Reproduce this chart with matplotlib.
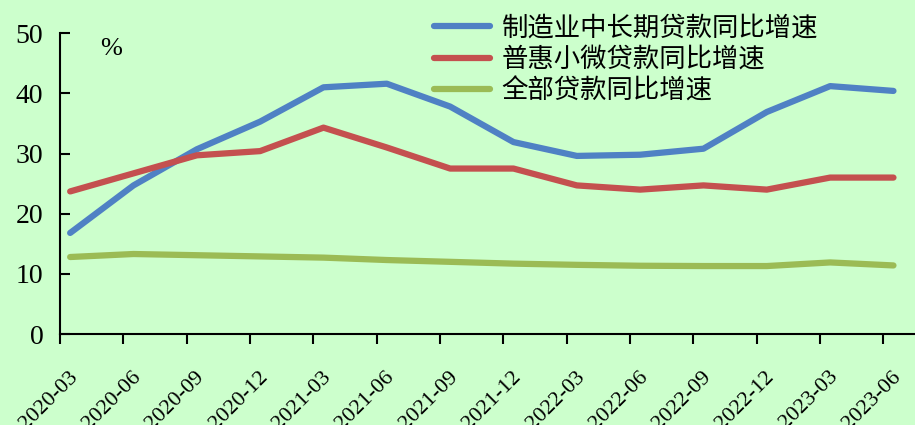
import matplotlib.pyplot as plt
import matplotlib.transforms as mtransforms

dates = ['2020-03', '2020-06', '2020-09', '2020-12', '2021-03', '2021-06', '2021-09',
         '2021-12', '2022-03', '2022-06', '2022-09', '2022-12', '2023-03', '2023-06']
manu_long = [16.8, 24.7, 30.7, 35.3, 41.0, 41.6, 37.8, 31.9, 29.6, 29.8, 30.8, 36.9, 41.2, 40.4]
inclusive_small = [23.7, 26.7, 29.7, 30.4, 34.3, 31.0, 27.5, 27.5, 24.7, 24.0, 24.7, 24.0, 26.0, 26.0]
all_loans = [12.8, 13.3, 13.1, 12.9, 12.7, 12.3, 12.0, 11.7, 11.5, 11.35, 11.3, 11.3, 11.9, 11.4]

labels = ['制造业中长期贷款同比增速', '普惠小微贷款同比增速', '全部贷款同比增速']
colors = ['#4f81c4', '#c4504f', '#9bbb55']

bg = '#ccffcc'
cjk = ['Noto Sans CJK SC', 'DejaVu Sans']
serif = 'Liberation Serif'

fig = plt.figure(figsize=(9.15, 4.25), dpi=100, facecolor=bg)
ax = fig.add_axes([0.0656, 0.214, 0.9344, 0.708])
ax.set_facecolor(bg)

x = list(range(len(dates)))
for ys, lab, c in zip([manu_long, inclusive_small, all_loans], labels, colors):
    ax.plot(x, ys, color=c, lw=4.5, label=lab, solid_capstyle='round', solid_joinstyle='round')

off = 0.16
tick_pos = [i - off for i in x]
ax.set_xticks(tick_pos)
ax.set_xticklabels([])
# rotated date labels, placed below and slightly right of each tick
lab_tr = ax.get_xaxis_transform() + mtransforms.ScaledTranslation(15 / 100, -40 / 100, fig.dpi_scale_trans)
for p, d in zip(tick_pos, dates):
    ax.text(p, 0, d, transform=lab_tr, rotation=45, ha='right', va='center',
            rotation_mode='anchor', fontsize=16, family=serif, clip_on=False)

ax.set_xlim(-off, len(dates) - 1 + 0.34)
ax.set_ylim(0, 50)
ax.set_yticks(range(0, 51, 10))
ax.tick_params(axis='y', direction='in', length=7, width=1.5, labelsize=20, pad=12)
ax.tick_params(axis='x', direction='out', length=7, width=1.5)
for t in ax.get_yticklabels():
    t.set_family(serif)

for s in ['top', 'right']:
    ax.spines[s].set_visible(False)
for s in ['left', 'bottom']:
    ax.spines[s].set_linewidth(1.5)

ax.text(0.047, 0.985, '%', transform=ax.transAxes, fontsize=19, family=serif, va='top')

leg = ax.legend(loc='upper left', bbox_to_anchor=(0.41, 1.142), frameon=False,
                prop={'family': cjk, 'size': 19}, handlelength=2.1, handletextpad=0.45,
                labelspacing=0.18)

fig.savefig('out.png', dpi=100, facecolor=bg)
